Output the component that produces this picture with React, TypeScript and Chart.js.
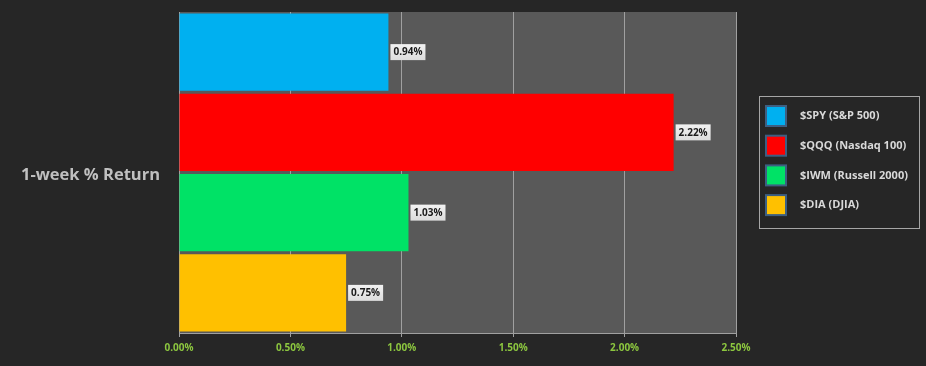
import React, { useEffect, useRef } from "react";
import { Chart, registerables } from "chart.js";

Chart.register(...registerables);

const categories = ["1-week % Return"];
const seriesNames = ["$SPY (S&P 500)", "$QQQ (Nasdaq 100)", "$IWM (Russell 2000)", "$DIA (DJIA)"];
const seriesValues = [0.94, 2.22, 1.03, 0.75];
const seriesColors = ["#00b0f0", "#ff0000", "#00e266", "#ffc000"];
const xTicks = [0, 0.5, 1.0, 1.5, 2.0, 2.5];

const PAGE_BG = "#262626";
const PLOT_BG = "#595959";

const plotBgPlugin = {
  id: "plotBg",
  beforeDraw(chart: any) {
    const { ctx, chartArea } = chart;
    ctx.save();
    ctx.fillStyle = PAGE_BG;
    ctx.fillRect(0, 0, chart.width, chart.height);
    ctx.fillStyle = PLOT_BG;
    ctx.fillRect(chartArea.left, chartArea.top, chartArea.right - chartArea.left, chartArea.bottom - chartArea.top);
    ctx.restore();
  },
};

const dataLabelPlugin = {
  id: "dataLabels",
  afterDatasetsDraw(chart: any) {
    const { ctx } = chart;
    ctx.save();
    ctx.font = "bold 10px 'Open Sans', sans-serif";
    ctx.textBaseline = "middle";
    chart.data.datasets.forEach((ds: any, i: number) => {
      const meta = chart.getDatasetMeta(i);
      meta.data.forEach((bar: any, j: number) => {
        const v = ds.data[j];
        const txt = v.toFixed(2) + "%";
        const w = ctx.measureText(txt).width + 6;
        const h = 16;
        const x = bar.x + 2;
        const y = bar.y - h / 2;
        const g = ctx.createLinearGradient(x, y, x, y + h);
        g.addColorStop(0, "#f2f2f2");
        g.addColorStop(1, "#dcdcdc");
        ctx.fillStyle = g;
        ctx.fillRect(x, y, w, h);
        ctx.fillStyle = "#1a1a1a";
        ctx.textAlign = "left";
        ctx.fillText(txt, x + 3, bar.y + 0.5);
      });
    });
    ctx.restore();
  },
};

const legendPlugin = {
  id: "customLegend",
  afterDraw(chart: any) {
    const { ctx } = chart;
    ctx.save();
    ctx.strokeStyle = "#a6a6a6";
    ctx.lineWidth = 1;
    ctx.strokeRect(759.5, 96.5, 160, 132);
    ctx.font = "bold 11px 'Open Sans', sans-serif";
    ctx.textBaseline = "middle";
    ctx.textAlign = "left";
    chart.data.datasets.forEach((ds: any, i: number) => {
      const cy = 116 + i * 29.7;
      ctx.fillStyle = "#3d5f82";
      ctx.fillRect(765, cy - 11, 22, 22);
      ctx.fillStyle = ds.backgroundColor;
      ctx.fillRect(767, cy - 9, 18, 18);
      ctx.fillStyle = "#d9d9d9";
      ctx.fillText(ds.label, 800, cy);
    });
    ctx.restore();
  },
};

export default function App() {
  const ref = useRef<HTMLCanvasElement>(null);
  useEffect(() => {
    document.body.style.margin = "0";
    document.body.style.background = PAGE_BG;
    const chart = new Chart(ref.current!, {
      type: "bar",
      data: {
        labels: categories,
        datasets: seriesNames.map((name, i) => ({
          label: name,
          data: [seriesValues[i]],
          backgroundColor: seriesColors[i],
          borderWidth: 0,
          categoryPercentage: 1,
          barPercentage: 0.96,
        })),
      },
      options: {
        indexAxis: "y",
        animation: false,
        responsive: false,
        maintainAspectRatio: false,
        layout: { padding: { left: 0, top: 12, right: 190, bottom: 0 } },
        plugins: { legend: { display: false }, tooltip: { enabled: false } },
        scales: {
          x: {
            min: 0,
            max: 2.5,
            afterBuildTicks(scale: any) {
              scale.ticks = xTicks.map((v) => ({ value: v }));
            },
            afterFit(scale: any) {
              scale.height = 33;
              scale.paddingLeft = 0;
            },
            grid: {
              color: "#a0a0a0",
              lineWidth: 1,
              tickLength: 4,
              drawTicks: true,
              tickColor: "#a0a0a0",
            },
            border: { display: true, color: "#a0a0a0" },
            ticks: {
              color: "#8cc63f",
              font: { family: "'Open Sans', sans-serif", size: 10, weight: "bold" },
              padding: 5,
              callback: (v: any) => Number(v).toFixed(2) + "%",
            },
          },
          y: {
            afterFit(scale: any) {
              scale.width = 179;
              scale.paddingTop = 0;
              scale.paddingBottom = 0;
            },
            grid: { display: false, drawTicks: false },
            border: { display: false },
            ticks: {
              color: "#c0c0c0",
              font: { family: "'Open Sans', sans-serif", size: 16.5, weight: "bold" },
              padding: 19,
              labelOffset: 3,
            },
          },
        },
      },
      plugins: [plotBgPlugin, dataLabelPlugin, legendPlugin],
    });
    return () => chart.destroy();
  }, []);
  return (
    <div style={{ width: 926, height: 366, background: PAGE_BG }}>
      <canvas ref={ref} width={926} height={366} style={{ display: "block" }} />
    </div>
  );
}
